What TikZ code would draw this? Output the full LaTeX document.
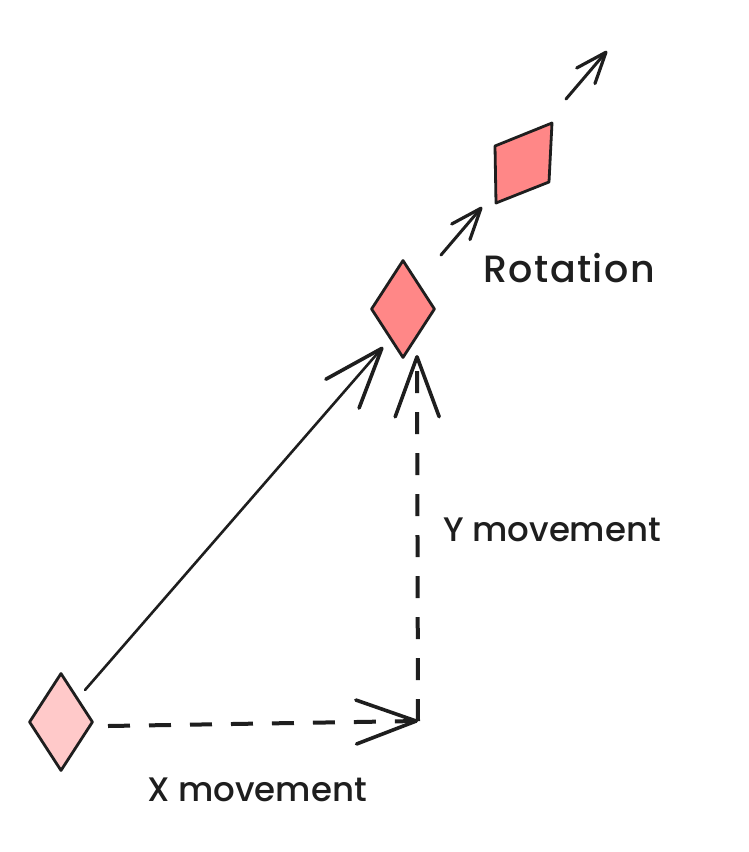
\documentclass[tikz,border=0pt]{standalone}
\usepackage{fontspec}
\setmainfont{Poppins}[BoldFont={Poppins Medium}]
\usetikzlibrary{arrows.meta,shapes.geometric}
\definecolor{ink}{HTML}{1E1E1E}
\definecolor{lightred}{HTML}{FFC9C9}
\definecolor{midred}{HTML}{FF8787}
\tikzset{
  shapeline/.style={draw=ink,line width=2.8pt,line join=round},
  bigtip/.style={-{Straight Barb[length=60pt,width=44pt,line width=3.6pt,line join=round,line cap=round]}},
  smalltip/.style={-{Straight Barb[length=31pt,width=24pt,line width=3.2pt,line join=round,line cap=round]}},
  dashedline/.style={draw=ink,line width=4pt,dash pattern=on 22pt off 19pt},
  label/.style={font=\fontsize{34}{40}\selectfont\bfseries,text=ink,inner sep=0pt},
}
\begin{document}
\begin{tikzpicture}[x=1pt,y=-1pt]
\useasboundingbox[fill=white] (0,0) rectangle (748,852);
% shapes
\node[shapeline,fill=lightred,diamond,minimum width=64pt,minimum height=98pt,inner sep=0pt] (start) at (61,722) {};
\node[shapeline,fill=midred,diamond,minimum width=64pt,minimum height=98pt,inner sep=0pt] (mid) at (403,309) {};
\draw[shapeline,fill=midred] (495,146) -- (552,123) -- (549,182) -- (496,203) -- cycle;
\coordinate (rot) at (523,163);
% connector ends
\coordinate (a1s) at (85,690);
\coordinate (a1e) at (383,347);
\coordinate (hx) at (108,726);
\coordinate (corner) at (418,721);
\coordinate (vy) at (417,355);
\coordinate (r1s) at (441,255);
\coordinate (r1e) at (482,207);
\coordinate (r2s) at (566,99);
\coordinate (r2e) at (607,51);
% connectors
\draw[ink,line width=2.6pt,line cap=round,bigtip] (a1s) -- (a1e);
\draw[dashedline,bigtip] (hx) -- (corner);
\draw[dashedline,bigtip] (corner) -- (vy);
\draw[ink,line width=3pt,line cap=round,smalltip] (r1s) -- (r1e);
\draw[ink,line width=3pt,line cap=round,smalltip] (r2s) -- (r2e);
% labels
\node[label,font=\fontsize{38}{44}\selectfont\bfseries\addfontfeature{LetterSpace=4}] (lrot) at (569,268) {Rotation};
\node[label] (ly) at (552,530) {Y movement};
\node[label] (lx) at (257,790) {X movement};
\end{tikzpicture}
\end{document}
